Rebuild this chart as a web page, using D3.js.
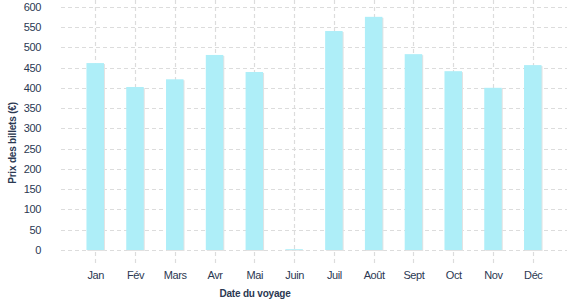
<!DOCTYPE html>
<html>
<head>
<meta charset="utf-8">
<script src="https://cdn.jsdelivr.net/npm/d3@7"></script>
<style>
  body { margin: 0; background: #fff; }
  text { font-family: "Liberation Sans", Arial, sans-serif; fill: #2b3852; }
  .tick text { font-size: 11px; letter-spacing: -0.4px; }
  .title { font-size: 10px; font-weight: bold; letter-spacing: -0.2px; }
</style>
</head>
<body>
<div id="chart"></div>
<script>
// months and ticket price (euros)
var months = ['Jan', 'Fév', 'Mars', 'Avr', 'Mai', 'Juin', 'Juil', 'Août', 'Sept', 'Oct', 'Nov', 'Déc'];
var prices = [461, 402, 421, 481, 439, 2, 540, 575, 483, 441, 400, 456];
var yTicks = [0, 50, 100, 150, 200, 250, 300, 350, 400, 450, 500, 550, 600];

var W = 577, H = 300;
var plotLeft = 61, plotRight = 567, plotTop = 6.7, plotBottom = 250;
var barW = 17.5;

var svg = d3.select('#chart').append('svg')
    .attr('width', W)
    .attr('height', H);

var xScale = d3.scalePoint()
    .domain(months)
    .range([plotLeft, plotRight])
    .padding(0.86);

var yScale = d3.scaleLinear()
    .domain([0, 600])
    .range([plotBottom, plotTop]);

// horizontal grid
svg.append('g')
    .selectAll('line')
    .data(yTicks).enter()
    .append('line')
    .attr('x1', plotLeft).attr('x2', plotRight)
    .attr('y1', function (d) { return Math.round(yScale(d)) + 0.5; })
    .attr('y2', function (d) { return Math.round(yScale(d)) + 0.5; })
    .attr('stroke', '#dcdcdc')
    .attr('stroke-width', 1.2)
    .attr('stroke-dasharray', '4,3');

// vertical grid (goes a bit below the axis like tick marks)
svg.append('g')
    .selectAll('line')
    .data(months).enter()
    .append('line')
    .attr('x1', function (d) { return Math.round(xScale(d)) + 0.5; })
    .attr('x2', function (d) { return Math.round(xScale(d)) + 0.5; })
    .attr('y1', 0).attr('y2', 265)
    .attr('stroke', '#dcdcdc')
    .attr('stroke-width', 1.2)
    .attr('stroke-dasharray', '4,3');

var data = months.map(function (m, i) { return { month: m, price: prices[i] }; });

// shadow
svg.append('g')
    .selectAll('rect')
    .data(data).enter()
    .append('rect')
    .attr('x', function (d) { return xScale(d.month) - barW / 2 + 1; })
    .attr('y', function (d) { return yScale(d.price) + 1; })
    .attr('width', barW)
    .attr('height', function (d) { return plotBottom - yScale(d.price); })
    .attr('fill', '#e2e2e2');

svg.append('g')
    .selectAll('rect')
    .data(data).enter()
    .append('rect')
    .attr('class', 'bar')
    .attr('x', function (d) { return xScale(d.month) - barW / 2; })
    .attr('y', function (d) { return yScale(d.price); })
    .attr('width', barW)
    .attr('height', function (d) { return plotBottom - yScale(d.price); })
    .attr('fill', '#aeeef8');

// axes (labels only)
var xAxis = d3.axisBottom(xScale).tickSize(0).tickPadding(21);
var gx = svg.append('g')
    .attr('transform', 'translate(0,' + plotBottom + ')')
    .call(xAxis);
gx.select('.domain').remove();

var yAxis = d3.axisLeft(yScale).tickValues(yTicks).tickSize(0).tickPadding(20);
var gy = svg.append('g')
    .attr('transform', 'translate(' + plotLeft + ',0)')
    .call(yAxis);
gy.select('.domain').remove();
svg.selectAll('.tick text').attr('fill', '#2b3852');

// axis titles
svg.append('text')
    .attr('class', 'title')
    .attr('x', 255)
    .attr('y', 297)
    .attr('text-anchor', 'middle')
    .text('Date du voyage');

svg.append('text')
    .attr('class', 'title')
    .attr('transform', 'translate(16,143) rotate(-90)')
    .attr('text-anchor', 'middle')
    .text('Prix des billets (€)');
</script>
</body>
</html>
